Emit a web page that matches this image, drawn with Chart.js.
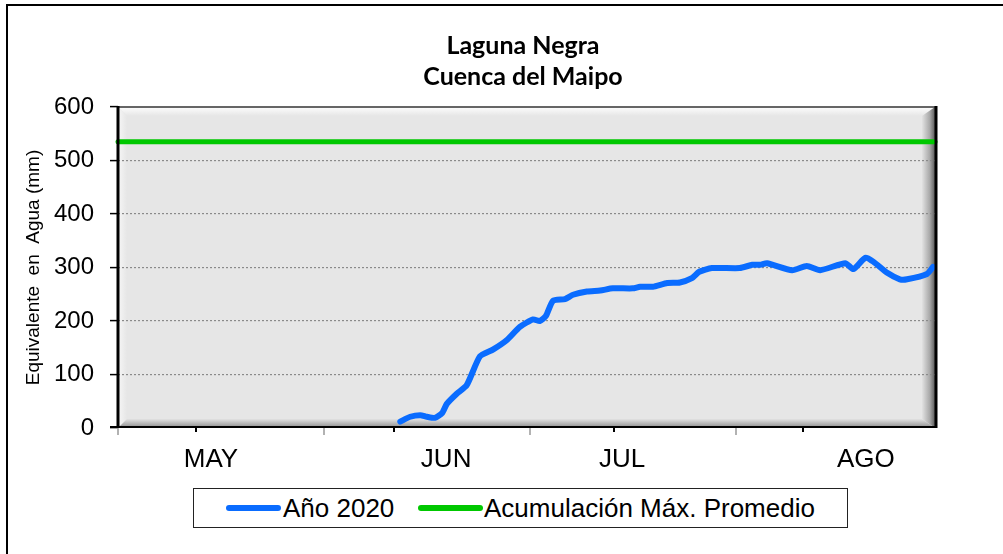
<!DOCTYPE html>
<html>
<head>
<meta charset="utf-8">
<script src="https://cdn.jsdelivr.net/npm/chart.js@4.4.1/dist/chart.umd.min.js"></script>
<style>
  body { margin: 0; background: #fff; }
  #wrap { position: relative; width: 1003px; height: 554px; overflow: hidden; }
  #frame { position: absolute; left: 6px; top: 4px; right: -20px; bottom: -20px;
           border-left: 2px solid #000; border-top: 2px solid #000; }
  #title { position: absolute; left: 323px; width: 400px; top: 29px; text-align: center;
           font: bold 25px Lato, "Noto Sans", sans-serif; line-height: 31px; color: #000; }
  #legend { position: absolute; left: 193px; top: 488px; width: 653px; height: 38px;
            border: 1.5px solid #222; background: #fff;
            font: 26px "Liberation Sans", Arial, sans-serif; color: #000; }
  .sw { position: absolute; top: 16px; height: 6px; border-radius: 3px; }
  .lt { position: absolute; top: 3px; line-height: 32px; white-space: nowrap; }
  canvas { position: absolute; left: 0; top: 0; }
</style>
</head>
<body>
<div id="wrap">
  <div id="frame"></div>
  <canvas id="chart" width="1003" height="554"></canvas>
  <div id="title">Laguna Negra<br>Cuenca del Maipo</div>
  <div id="legend">
    <div class="sw" style="left:32px;width:55px;background:#0a6cff"></div>
    <div class="lt" style="left:89px">Año 2020</div>
    <div class="sw" style="left:224px;width:65px;background:#00c800"></div>
    <div class="lt" style="left:290px">Acumulación Máx. Promedio</div>
  </div>
</div>
<script>
// x axis is in days counted from 1 May
const xMax = 123;
const monthLabels = ['MAY', 'JUN', 'JUL', 'AGO'];
const monthLabelDays = [14.0, 49.4, 75.9, 112.6];
const majorTickDays = [0, 31, 62, 93];
const minorTickDays = [11.7, 41.6, 74.7, 103.1];

const yTicks = [0, 100, 200, 300, 400, 500, 600];

// Año 2020
const days2020 = [42.5, 44.0, 45.5, 46.5, 47.7, 48.8, 49.5, 51.0, 52.5, 54.5, 56.5, 58.6,
  60.5, 62.5, 63.5, 64.4, 65.5, 67.3, 68.5, 70.6, 72.6, 74.5, 77.5, 78.6, 80.5, 82.7,
  84.6, 86.4, 87.5, 89.4, 93.6, 95.5, 96.7, 97.7, 101.5, 103.7, 105.7, 109.5, 110.7,
  112.5, 113.7, 115.8, 117.7, 118.8, 121.8, 122.7];
const values2020 = [12, 21, 24, 21, 19, 28, 45, 64, 80, 134, 147, 165,
  189, 203, 200, 209, 238, 241, 249, 255, 257, 261, 261, 264, 264, 271,
  272, 280, 292, 299, 299, 305, 305, 308, 295, 303, 295, 308, 297,
  318, 311, 290, 278, 278, 288, 301];

// Acumulación Máx. Promedio
const maxAvgDays = [0, 123];
const maxAvgValue = 535;

const blue = '#0a6cff';
const green = '#00c800';

// bevelled grey plot background
const plotBackground = {
  id: 'plotBackground',
  beforeDraw(chart) {
    const { ctx, chartArea: a } = chart;
    ctx.save();
    ctx.fillStyle = '#e6e6e6';
    ctx.fillRect(a.left, a.top, a.right - a.left, a.bottom - a.top);

    const b = 9, br = 13;
    let g;
    // top
    g = ctx.createLinearGradient(0, a.top, 0, a.top + b);
    g.addColorStop(0, '#fdfdfd'); g.addColorStop(1, '#e6e6e6');
    ctx.fillStyle = g;
    ctx.beginPath();
    ctx.moveTo(a.left, a.top); ctx.lineTo(a.right, a.top);
    ctx.lineTo(a.right - br, a.top + b); ctx.lineTo(a.left + b, a.top + b);
    ctx.closePath(); ctx.fill();
    // left
    g = ctx.createLinearGradient(a.left, 0, a.left + b, 0);
    g.addColorStop(0, '#f6f6f6'); g.addColorStop(1, '#e6e6e6');
    ctx.fillStyle = g;
    ctx.beginPath();
    ctx.moveTo(a.left, a.top); ctx.lineTo(a.left + b, a.top + b);
    ctx.lineTo(a.left + b, a.bottom - b); ctx.lineTo(a.left, a.bottom);
    ctx.closePath(); ctx.fill();
    // right
    g = ctx.createLinearGradient(a.right - br, 0, a.right, 0);
    g.addColorStop(0, '#e2e2e2'); g.addColorStop(0.6, '#a8a8a8'); g.addColorStop(1, '#5a5a5a');
    ctx.fillStyle = g;
    ctx.beginPath();
    ctx.moveTo(a.right, a.top); ctx.lineTo(a.right, a.bottom);
    ctx.lineTo(a.right - br, a.bottom - b); ctx.lineTo(a.right - br, a.top + b);
    ctx.closePath(); ctx.fill();
    // bottom
    g = ctx.createLinearGradient(0, a.bottom - b, 0, a.bottom);
    g.addColorStop(0, '#e2e2e2'); g.addColorStop(1, '#8a8a8a');
    ctx.fillStyle = g;
    ctx.beginPath();
    ctx.moveTo(a.left, a.bottom); ctx.lineTo(a.left + b, a.bottom - b);
    ctx.lineTo(a.right - br, a.bottom - b); ctx.lineTo(a.right, a.bottom);
    ctx.closePath(); ctx.fill();
    ctx.restore();
  },
  afterDraw(chart) {
    const { ctx, chartArea: a } = chart;
    const xs = chart.scales.x;
    ctx.save();
    // frame
    ctx.strokeStyle = '#333';
    ctx.lineWidth = 1.5;
    ctx.beginPath(); ctx.moveTo(a.left, a.top); ctx.lineTo(a.right, a.top); ctx.stroke();
    ctx.strokeStyle = '#000';
    ctx.lineWidth = 3;
    ctx.beginPath(); ctx.moveTo(a.left, a.top - 1); ctx.lineTo(a.left, a.bottom); ctx.stroke();
    ctx.beginPath(); ctx.moveTo(a.right + 1, a.top - 1); ctx.lineTo(a.right + 1, a.bottom); ctx.stroke();
    ctx.lineWidth = 2;
    ctx.beginPath(); ctx.moveTo(a.left - 8, a.bottom - 1); ctx.lineTo(a.right + 2, a.bottom - 1); ctx.stroke();
    // x tick marks
    ctx.strokeStyle = '#999';
    ctx.lineWidth = 1.5;
    majorTickDays.forEach(d => {
      const x = Math.round(xs.getPixelForValue(d));
      ctx.beginPath(); ctx.moveTo(x, a.bottom); ctx.lineTo(x, a.bottom + 7); ctx.stroke();
    });
    ctx.strokeStyle = '#000';
    ctx.lineWidth = 2;
    minorTickDays.forEach(d => {
      const x = Math.round(xs.getPixelForValue(d));
      ctx.beginPath(); ctx.moveTo(x, a.bottom); ctx.lineTo(x, a.bottom + 4); ctx.stroke();
    });
    ctx.restore();
  }
};

const ctx = document.getElementById('chart').getContext('2d');
new Chart(ctx, {
  type: 'line',
  data: {
    datasets: [
      {
        label: 'Año 2020',
        data: days2020.map((d, i) => ({ x: d, y: values2020[i] })),
        borderColor: blue,
        borderWidth: 6,
        pointRadius: 0,
        tension: 0.2,
        borderCapStyle: 'round',
        borderJoinStyle: 'round'
      },
      {
        label: 'Acumulación Máx. Promedio',
        data: maxAvgDays.map(d => ({ x: d, y: maxAvgValue })),
        borderColor: green,
        borderWidth: 5,
        pointRadius: 0,
        borderCapStyle: 'round'
      }
    ]
  },
  options: {
    responsive: false,
    animation: false,
    clip: false,
    layout: { padding: { left: 0, right: 68, top: 107, bottom: 0 } },
    plugins: {
      legend: { display: false },
      title: { display: false },
      tooltip: { enabled: false }
    },
    scales: {
      x: {
        type: 'linear',
        min: 0,
        max: xMax,
        afterBuildTicks: s => { s.ticks = monthLabelDays.map(v => ({ value: v })); },
        afterFit: s => { s.height = 126; },
        grid: { display: false, drawTicks: false },
        border: { display: false },
        ticks: {
          autoSkip: false,
          maxRotation: 0,
          padding: 16,
          color: '#000',
          font: { family: '"Liberation Sans", Arial, sans-serif', size: 26 },
          callback: (v, i) => monthLabels[i]
        }
      },
      y: {
        min: 0,
        max: 600,
        afterBuildTicks: s => { s.ticks = yTicks.map(v => ({ value: v })); },
        afterFit: s => { s.width = 118; },
        grid: {
          color: c => (c.tick && (c.tick.value === 0 || c.tick.value === 600)) ? 'rgba(0,0,0,0)' : '#8a8a8a',
          lineWidth: 1.2,
          tickColor: '#000',
          tickLength: 8,
          tickWidth: 1.5,
          tickBorderDash: []
        },
        border: { display: false, dash: [2, 2] },
        ticks: {
          padding: 16,
          color: '#000',
          font: { family: '"Liberation Sans", Arial, sans-serif', size: 24 }
        },
        title: {
          display: true,
          text: 'Equivalente  en  Agua (mm)',
          color: '#000',
          padding: { top: 22, bottom: 0 },
          font: { family: '"Liberation Sans", Arial, sans-serif', size: 19 }
        }
      }
    }
  },
  plugins: [plotBackground]
});
</script>
</body>
</html>
